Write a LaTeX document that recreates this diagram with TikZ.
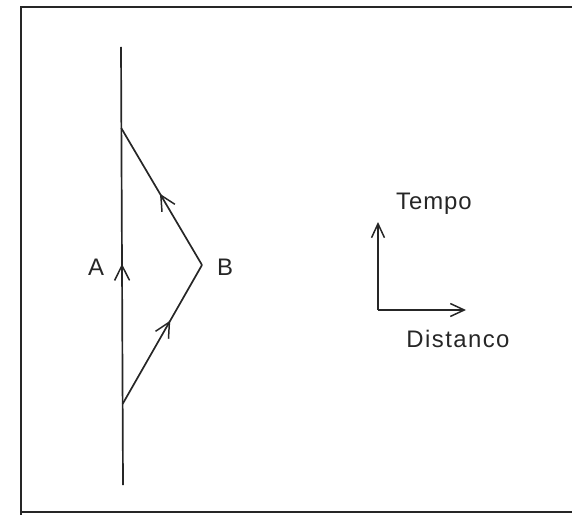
\documentclass[tikz,border=0pt]{standalone}
\usepackage{fontspec}
\setmainfont{Liberation Sans}
\usetikzlibrary{arrows.meta,decorations.markings}
\begin{document}
\begin{tikzpicture}[x=1bp,y=-1bp,
  line/.style={line width=1.7pt,color=black!85},
  barb/.style={-{Straight Barb[length=14pt,width=13pt,line width=1.5pt]}},
  midarrow/.style={postaction={decorate},decoration={markings,
     mark=at position #1 with {\arrow{Straight Barb[length=15pt,width=15pt,line width=1.5pt]}}}},
  lbl/.style={font=\fontsize{24}{28}\selectfont,text=black!85,inner sep=0pt}]
\useasboundingbox (0,0) rectangle (572,515);
% frame
\draw[line] (21,515) -- (21,7) -- (572,7);
\draw[line] (21,512) -- (572,512);
% world line A
\coordinate (Abot) at (123,485);
\coordinate (Atop) at (121,47);
\coordinate (dep) at (122.6,404);
\coordinate (ret) at (121.2,128);
\coordinate (B) at (202,265);
\draw[line,midarrow=0.505] (Abot) -- (Atop);
\draw[line,midarrow=0.6] (dep) -- (B);
\draw[line,midarrow=0.52] (B) -- (ret);
\node[lbl] (la) at (96,267) {A};
\node[lbl] (lb) at (225,267) {B};
% axes
\coordinate (O) at (378,310);
\coordinate (T) at (378,222);
\coordinate (D) at (466,310);
\draw[line,barb] (O) -- (T);
\draw[line,barb] (O) -- (D);
\node[lbl] (tempo) at (434,204) {\addfontfeature{LetterSpace=4}Tempo};
\node[lbl] (dist) at (458,339) {\addfontfeature{LetterSpace=6}Distanco};
\end{tikzpicture}
\end{document}
